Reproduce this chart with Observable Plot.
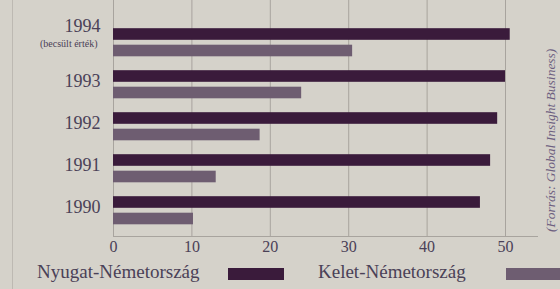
<!DOCTYPE html>
<html>
<head>
<meta charset="utf-8">
<script src="https://cdn.jsdelivr.net/npm/d3@7"></script>
<script src="https://cdn.jsdelivr.net/npm/@observablehq/plot@0.6"></script>
<style>
  html, body { margin: 0; padding: 0; background: #d5d2ca; }
  #wrap { position: relative; width: 560px; height: 289px; overflow: hidden; background: #d5d2ca;
          font-family: "Liberation Serif", "DejaVu Serif", serif; color: #4a4157; }
  #edge { position: absolute; left: 12px; top: 0; width: 1px; height: 289px; background: #bdb9b2; }
  .lg { position: absolute; top: 261px; font-size: 19px; white-space: nowrap; }
  .sw { position: absolute; top: 268px; height: 12px; }
  #src { position: absolute; left: 543px; top: 232px; transform-origin: 0 0; transform: rotate(-90deg);
         font-size: 13.5px; font-style: italic; color: #6d6080; white-space: nowrap; }
</style>
</head>
<body>
<div id="wrap">
  <div id="edge"></div>
  <div id="chart"></div>
  <span class="lg" id="lgW" style="left:37px"></span>
  <div class="sw" id="swW" style="left:228px;width:56px"></div>
  <span class="lg" id="lgE" style="left:318px"></span>
  <div class="sw" id="swE" style="left:506px;width:60px"></div>
  <span id="src"></span>
</div>
<script>
const years = ["1994", "1993", "1992", "1991", "1990"];
const west = [50.6, 50.0, 49.0, 48.1, 46.8];
const east = [30.5, 24.0, 18.7, 13.1, 10.2];
const xTicks = [0, 10, 20, 30, 40, 50];
const seriesNames = ["Nyugat-Németország", "Kelet-Németország"];
const estimateNote = "(becsült érték)";
const sourceText = "(Forrás: Global Insight Business)";

const darkColor = "#3a1b3b";
const lightColor = "#6e5d71";
const textColor = "#4a4157";

const westData = years.map((y, i) => ({year: y, value: west[i]}));
const eastData = years.map((y, i) => ({year: y, value: east[i]}));

const chart = Plot.plot({
  width: 560,
  height: 258,
  marginLeft: 113,
  marginRight: 23,
  marginTop: 0,
  marginBottom: 22,
  style: {background: "transparent", fontFamily: "'Liberation Serif', serif", color: textColor},
  x: {domain: [0, 54.08]},
  y: {domain: years, range: [20, 232], padding: 0, axis: null},
  marks: [
    Plot.gridX(xTicks.filter(d => d > 0), {stroke: "#a8a49e", strokeOpacity: 1, strokeWidth: 1}),
    Plot.ruleX([0], {stroke: "#a8a49e"}),
    Plot.frame({anchor: "bottom", stroke: "#a8a49e"}),
    Plot.axisX(xTicks, {anchor: "bottom", tickSize: 0, tickPadding: 4, label: null, fontSize: 16, fill: textColor}),
    Plot.barX(westData, {x: "value", y: "year", fill: darkColor, insetTop: 7.2, insetBottom: 23.2}),
    Plot.barX(eastData, {x: "value", y: "year", fill: lightColor, insetTop: 23.7, insetBottom: 6.7}),
    Plot.text(years.filter(y => y !== "1994"), {y: d => d, text: d => d, frameAnchor: "left", dx: -13, dy: -3, textAnchor: "end", fontSize: 18, fill: textColor}),
    Plot.text(years.filter(y => y === "1994"), {y: d => d, text: d => d, frameAnchor: "left", dx: -13, dy: -16, textAnchor: "end", fontSize: 18, fill: textColor}),
    Plot.text(years.filter(y => y === "1994"), {y: d => d, text: () => estimateNote, frameAnchor: "left", dx: -16, dy: 1, textAnchor: "end", fontSize: 10, fill: textColor})
  ]
});
document.getElementById("chart").appendChild(chart);
document.getElementById("lgW").textContent = seriesNames[0];
document.getElementById("lgE").textContent = seriesNames[1];
document.getElementById("swW").style.background = darkColor;
document.getElementById("swE").style.background = lightColor;
document.getElementById("src").textContent = sourceText;
</script>
</body>
</html>
